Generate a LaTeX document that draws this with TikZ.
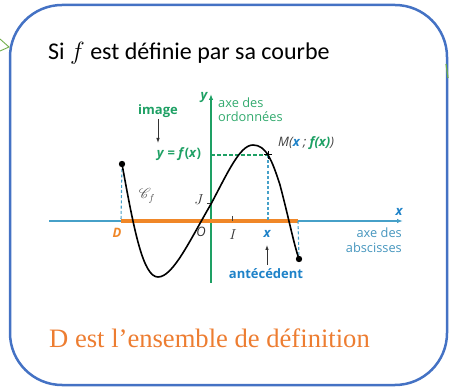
\documentclass[tikz,border=0pt]{standalone}
\usepackage{fontspec}
\usepackage{mathrsfs}
\setmainfont{Carlito}
\newfontfamily\lab{Open Sans}
\newfontfamily\tnr{Liberation Serif}
\usetikzlibrary{arrows.meta,calc}
\definecolor{boxblue}{HTML}{4472C4}
\definecolor{arrgreen}{HTML}{70AD47}
\definecolor{figgreen}{RGB}{30,160,100}
\definecolor{txtgreen}{RGB}{50,170,110}
\definecolor{axblue}{RGB}{70,160,200}
\definecolor{lblblue}{RGB}{30,130,200}
\definecolor{txtblue}{RGB}{70,150,190}
\definecolor{figorange}{RGB}{240,135,40}
\definecolor{txtorange}{RGB}{237,125,49}
\begin{document}
\begin{tikzpicture}[x=1pt,y=-1pt,
  lbl/.style={inner sep=0pt,font=\lab\fontsize{12.8}{14}\selectfont},
  axisarrow/.style={-{Latex[length=6pt,width=4.5pt]}},
  guide/.style={axblue,line width=1.1pt,dash pattern=on 3pt off 2.2pt},
  smallarrow/.style={-{Latex[length=5pt,width=3.5pt]},line width=0.8pt,black!80}]
\useasboundingbox (0,0) rectangle (450,390);

% outer frame and stray green arrows
\draw[boxblue,line width=2.5pt,rounded corners=52pt] (10,5) rectangle (447,385);
\draw[arrgreen,line width=0.9pt] (0,39) -- (9,47) -- (0,51);
\draw[arrgreen,line width=1.2pt] (446,64) -- (448,78);

% title
\node[anchor=base west,inner sep=0pt,font=\fontsize{24}{28}\selectfont] (title) at (48,60) {Si $f$ est définie par sa courbe};

% bottom text
\node[anchor=base west,inner sep=0pt,text=txtorange,font=\tnr\fontsize{26.6}{30}\selectfont] (concl) at (49,347) {D est l’ensemble de définition};

% coordinates
\coordinate (xs) at (49,221);
\coordinate (xe) at (403,221);
\coordinate (ys) at (211,283);
\coordinate (ye) at (211,94);
\coordinate (P) at (122,164);
\coordinate (Q) at (299,259);
\coordinate (M) at (268,155);
\coordinate (Dp) at (121,221);
\coordinate (Ep) at (298,221);
\coordinate (Mx) at (268,221);
\coordinate (My) at (211,155);

% axes
\draw[axblue,line width=1.4pt,axisarrow] (xs) -- (xe);
\draw[figgreen,line width=1.4pt,axisarrow] (ys) -- (ye);
\draw[figorange,line width=3.6pt] (Dp) -- (Ep);

% dashed guides
\draw[guide] (P) -- (Dp);
\draw[guide] (Ep) -- (Q);
\draw[guide] (M) -- (Mx);
\draw[figgreen,line width=1.1pt,dash pattern=on 3.5pt off 2.5pt] (My) -- (M);

% ticks
\draw[black!75,line width=0.8pt] (232,216) -- (232,221);
\draw[black!75,line width=0.8pt] (207,203) -- (211,203);

% curve
\draw[black,line width=1.6pt] (P) .. controls (134,230) and (143,277) .. (158,277)
  .. controls (173,277) and (190,240) .. (211,204)
  .. controls (228,172) and (240,145) .. (253,145)
  .. controls (266,145) and (272,160) .. (280,185)
  .. controls (288,215) and (294,245) .. (Q);
\fill (P) circle (3.2pt);
\fill (Q) circle (3.2pt);
\draw[black,line width=1pt] ($(M)+(-4,0)$) -- ($(M)+(4,0)$) ($(M)+(0,-4)$) -- ($(M)+(0,4)$);

% labels
\node[lbl,text=figorange,font=\lab\bfseries\itshape\fontsize{13}{14}\selectfont] (Dl) at (117,233) {D};
\node[lbl,text=black!80,font=\lab\itshape\fontsize{13}{14}\selectfont] (Ol) at (201,232) {O};
\node[lbl,text=black!80,font=\fontsize{14}{15}\selectfont] (Il) at (233,235) {$I$};
\node[lbl,text=black!80,font=\fontsize{14}{15}\selectfont] (Jl) at (199,200) {$J$};
\node[lbl,text=black!70,font=\fontsize{14}{15}\selectfont] (Cf) at (147,196) {$\mathscr{C}_f$};
\node[lbl,text=lblblue,font=\lab\bfseries\itshape\fontsize{13}{14}\selectfont] (xl) at (267,234) {x};
\node[lbl,text=lblblue,font=\lab\bfseries\fontsize{13}{14}\selectfont] (ant) at (266,274) {antécédent};
\coordinate (a1) at (267,265);
\coordinate (a2) at (267,245);
\draw[smallarrow] (a1) -- (a2);
\node[lbl,text=lblblue,font=\lab\bfseries\itshape\fontsize{13}{14}\selectfont] (xend) at (399,212) {x};
\node[lbl,text=txtblue,anchor=east] (ax1) at (402,233) {axe des};
\node[lbl,text=txtblue,anchor=east] (ax2) at (402,248) {abscisses};
\node[lbl,text=figgreen,font=\lab\bfseries\itshape\fontsize{13}{14}\selectfont] (yl) at (204,98) {y};
\node[lbl,text=txtgreen,anchor=west] (oy1) at (218,103) {axe des};
\node[lbl,text=txtgreen,anchor=west] (oy2) at (218,117) {ordonnées};
\node[lbl,text=figgreen,font=\lab\bfseries\fontsize{13}{14}\selectfont] (img) at (158,111) {image};
\node[lbl,text=figgreen,font=\lab\bfseries\fontsize{13}{14}\selectfont] (yfx) at (179,154) {\textit{y} = \textit{f}(\textit{x})};
\coordinate (b1) at (158,119);
\coordinate (b2) at (158,143);
\draw[smallarrow] (b1) -- (b2);
\node[lbl,anchor=west,text=black!75,font=\lab\itshape\fontsize{13}{14}\selectfont] (Ml) at (278,143) {M(\textcolor{lblblue}{\bfseries x} ; \textcolor{figgreen}{\bfseries f(x)})};
\end{tikzpicture}
\end{document}
